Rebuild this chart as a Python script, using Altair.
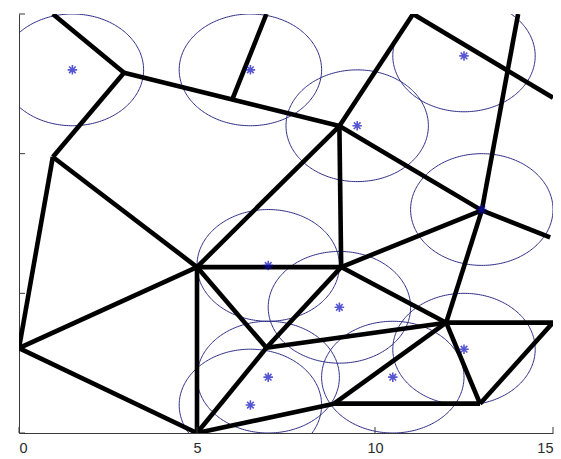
import altair as alt
import numpy as np
import pandas as pd

# Sensor positions (blue asterisks) and their sensing radius
star_x = [1.5, 6.5, 12.5, 9.5, 13.0, 7.0, 9.0, 12.5, 7.0, 10.5, 6.5]
star_y = [13.0, 13.0, 13.5, 11.0, 8.0, 6.0, 4.5, 3.0, 2.0, 2.0, 1.0]
radius = 2.0

# Vertices of the partition drawn in black
vert_name = ["A", "B", "C", "E", "F", "G", "H", "I", "L", "M", "K", "L2",
             "J", "O", "N", "P", "Q", "R", "S", "T"]
vert_x = [0.95, 2.95, 0.95, 0.0, 5.0, 5.0, 9.0, 11.07, 15.0, 14.02, 13.0, 14.92,
          9.05, 6.95, 12.0, 15.0, 12.95, 8.85, 6.0, 6.95]
vert_y = [15.0, 12.9, 9.88, 3.04, 5.94, 0.0, 10.99, 15.0, 12.0, 15.0, 7.97, 7.0,
          5.94, 3.05, 3.95, 3.95, 1.05, 1.05, 11.97, 15.0]

# Edges between vertices
edges = [("A", "B"), ("B", "C"), ("B", "H"), ("S", "T"),
         ("C", "E"), ("C", "F"), ("E", "F"), ("E", "G"),
         ("F", "H"), ("F", "J"), ("F", "O"), ("F", "G"),
         ("H", "I"), ("H", "J"), ("H", "K"), ("I", "L"),
         ("M", "K"), ("K", "L2"), ("K", "J"), ("K", "N"),
         ("J", "O"), ("J", "N"), ("O", "N"), ("O", "G"),
         ("N", "P"), ("N", "Q"), ("N", "R"), ("P", "Q"),
         ("Q", "R"), ("R", "G")]

tick_vals = [0, 5, 10, 15]

W, H = 534, 419
axis_col = "#3a3a3a"

pos = {n: (vx, vy) for n, vx, vy in zip(vert_name, vert_x, vert_y)}
edge_df = pd.DataFrame([
    {"x1": pos[a][0], "y1": pos[a][1], "x2": pos[b][0], "y2": pos[b][1]}
    for a, b in edges
])

stars_df = pd.DataFrame({"x": star_x, "y": star_y})

# Outline of each sensing disc
theta = np.linspace(0, 2 * np.pi, 241)
circ_rows = []
for i, (cx, cy) in enumerate(zip(star_x, star_y)):
    for k, t in enumerate(theta):
        circ_rows.append({"id": i, "ord": k,
                          "x": cx + radius * np.cos(t),
                          "y": cy + radius * np.sin(t)})
circ_df = pd.DataFrame(circ_rows)

xs = alt.Scale(domain=[0, 15], nice=False, zero=False)
ys = alt.Scale(domain=[0, 15], nice=False, zero=False)

x_axis = alt.Axis(values=tick_vals, ticks=False, tickSize=0, grid=False,
                  domainColor=axis_col, domainWidth=1, labelColor="#2a2a2a",
                  labelFont="Liberation Sans", labelFontSize=14.5,
                  labelPadding=8, title=None)
y_axis = alt.Axis(values=tick_vals, ticks=False, tickSize=0, grid=False,
                  labels=False, domainColor=axis_col, domainWidth=1,
                  title=None)

circles = alt.Chart(circ_df).mark_line(
    color="#2e2e88", strokeWidth=1, clip=True
).encode(
    x=alt.X("x:Q", scale=xs, axis=x_axis),
    y=alt.Y("y:Q", scale=ys, axis=y_axis),
    detail="id:N",
    order="ord:Q",
)

lines = alt.Chart(edge_df).mark_rule(
    color="black", strokeWidth=4.6, clip=True
).encode(
    x=alt.X("x1:Q", scale=xs),
    y=alt.Y("y1:Q", scale=ys),
    x2="x2:Q",
    y2="y2:Q",
)

asterisk = "M-1,0L1,0M0,-1L0,1M-0.7,-0.7L0.7,0.7M-0.7,0.7L0.7,-0.7"
stars = alt.Chart(stars_df).mark_point(
    shape=asterisk, size=90, filled=False, color="#1010c0", strokeWidth=1.6
).encode(
    x=alt.X("x:Q", scale=xs),
    y=alt.Y("y:Q", scale=ys),
)

ticks_df = pd.DataFrame({"t": tick_vals})
xticks = alt.Chart(ticks_df).mark_rule(color=axis_col, strokeWidth=1).encode(
    x=alt.X("t:Q", scale=xs),
    y=alt.value(H),
    y2=alt.value(H - 6),
)
yticks = alt.Chart(ticks_df).mark_rule(color=axis_col, strokeWidth=1).encode(
    y=alt.Y("t:Q", scale=ys),
    x=alt.value(0),
    x2=alt.value(6),
)

chart = alt.layer(circles, lines, stars, xticks, yticks).properties(
    width=W,
    height=H,
    autosize="none",
    padding={"left": 19, "top": 14, "right": 8, "bottom": 26},
    background="white",
).configure_view(stroke=None)

chart.save("out.html", embed_options={"renderer": "svg", "actions": False})
